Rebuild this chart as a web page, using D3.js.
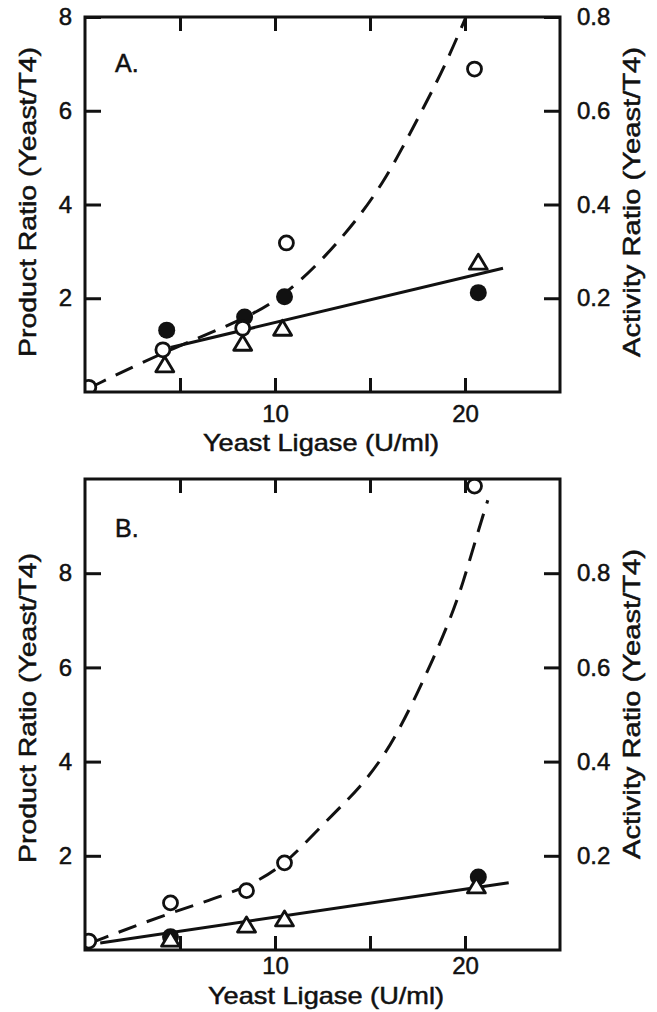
<!doctype html>
<html>
<head>
<meta charset="utf-8">
<script src="https://cdn.jsdelivr.net/npm/d3@7"></script>
<style>
body { margin: 0; background: #fff; }
text { font-family: "Liberation Sans", Arial, sans-serif; fill: #111; stroke: #111; stroke-width: 0.5px; }
</style>
</head>
<body>
<script>
// panel A values
var aOpen     = [[0.2, 0.1], [4.1, 0.9], [8.3, 1.36], [10.6, 3.18], [20.5, 6.89]];
var aFilled   = [[4.3, 1.32], [8.4, 1.6], [10.5, 2.03], [20.7, 2.12]];
var aTriangle = [[4.2, 0.58], [8.3, 1.04], [10.4, 1.36], [20.7, 2.77]];
var aSolid    = [[4.5, 0.95], [22.0, 2.64]];
var aDashed   = [[0.2, 0.08], [4.1, 0.85], [8.4, 1.55], [10.5, 2.05], [12.7, 2.9], [14.5, 3.77],
                 [15.7, 4.48], [16.7, 5.2], [17.6, 5.9], [18.5, 6.6], [19.2, 7.2], [20.05, 8.0]];

// panel B values
var bOpen     = [[0.2, 0.19], [4.5, 1.0], [8.5, 1.26], [10.5, 1.85], [20.5, 9.85]];
var bFilled   = [[4.5, 0.28], [20.7, 1.55]];
var bTriangle = [[4.5, 0.23], [8.5, 0.53], [10.5, 0.66], [20.6, 1.36]];
var bSolid    = [[0.8, 0.15], [22.3, 1.43]];
var bDashed   = [[0.3, 0.15], [4.5, 0.8], [8.5, 1.3], [10.4, 1.8], [11.3, 2.15], [13.1, 2.9],
                 [14.5, 3.46], [15.7, 4.1], [16.6, 4.73], [17.5, 5.46], [18.3, 6.16], [19.2, 7.0],
                 [19.9, 7.79], [20.6, 8.77], [21.2, 9.55]];

var xTicks = [5, 10, 15, 20];
var xLabels = [10, 20];

var svg = d3.select("body").append("svg")
  .attr("width", 657)
  .attr("height", 1012);

var x = d3.scaleLinear().domain([0, 25]).range([85, 560]);

function panel(o) {
  var y = d3.scaleLinear().domain([0, o.ymax]).range([o.bottom, o.top]);
  var y2 = d3.scaleLinear().domain([0, o.ymax / 10]).range([o.bottom, o.top]);
  var g = svg.append("g");
  var clipId = "clip" + o.name;
  g.append("clipPath").attr("id", clipId)
    .append("rect")
    .attr("x", x(0)).attr("y", o.top)
    .attr("width", x(25) - x(0)).attr("height", o.bottom - o.top);

  function axis(a, transform) {
    var s = g.append("g").attr("transform", transform).call(a);
    s.select(".domain").remove();
    s.selectAll("line").attr("stroke", "#111").attr("stroke-width", 3);
    s.selectAll("text").style("font-size", "24px").attr("fill", "#111");
    return s;
  }
  axis(d3.axisLeft(y).tickValues(o.yTicks).tickSize(-16).tickPadding(13).tickFormat(d3.format("d")),
       "translate(" + x(0) + ",0)");
  axis(d3.axisRight(y2).tickValues(o.yTicks.map(d => d / 10)).tickSize(-16).tickPadding(17).tickFormat(d3.format(".1f")),
       "translate(" + x(25) + ",0)");
  axis(d3.axisBottom(x).tickValues(xTicks).tickSize(-14).tickPadding(o.xPad)
         .tickFormat(d => xLabels.indexOf(d) >= 0 ? d : ""),
       "translate(0," + o.bottom + ")");
  axis(d3.axisTop(x).tickValues(xTicks).tickSize(-14).tickFormat(""),
       "translate(0," + o.top + ")");

  var plot = g.append("g").attr("clip-path", "url(#" + clipId + ")");
  plot.append("path")
    .attr("d", d3.line().x(d => x(d[0])).y(d => y(d[1])).curve(d3.curveBasis)(o.dashed))
    .attr("fill", "none").attr("stroke", "#111").attr("stroke-width", 3)
    .attr("stroke-dasharray", "19,11");
  plot.append("path")
    .attr("d", d3.line().x(d => x(d[0])).y(d => y(d[1]))(o.solid))
    .attr("fill", "none").attr("stroke", "#111").attr("stroke-width", 3);

  plot.selectAll(".filled").data(o.filled).join("circle")
    .attr("cx", d => x(d[0])).attr("cy", d => y(d[1])).attr("r", 8.5)
    .attr("fill", "#111");
  plot.selectAll(".tri").data(o.triangle).join("path")
    .attr("transform", d => "translate(" + x(d[0]) + "," + y(d[1]) + ")")
    .attr("d", "M0,-8 L9,7 L-9,7 Z")
    .attr("fill", "#fff").attr("stroke", "#111").attr("stroke-width", 2.8)
    .attr("stroke-linejoin", "round");
  plot.selectAll(".open").data(o.open).join("circle")
    .attr("cx", d => x(d[0])).attr("cy", d => y(d[1])).attr("r", 7)
    .attr("fill", "#fff").attr("stroke", "#111").attr("stroke-width", 2.8);

  g.append("rect")
    .attr("x", x(0)).attr("y", o.top)
    .attr("width", x(25) - x(0)).attr("height", o.bottom - o.top)
    .attr("fill", "none").attr("stroke", "#111").attr("stroke-width", 3);

  g.append("text").attr("x", 115).attr("y", o.top + o.labelDy)
    .style("font-size", "25px").text(o.name + ".");

  g.append("text")
    .attr("transform", "translate(36," + o.leftMid + ") rotate(-90)")
    .attr("text-anchor", "middle").style("font-size", "24px")
    .attr("textLength", 310).attr("lengthAdjust", "spacingAndGlyphs")
    .text("Product Ratio (Yeast/T4)");
  g.append("text")
    .attr("transform", "translate(640," + o.rightMid + ") rotate(-90)")
    .attr("text-anchor", "middle").style("font-size", "24px")
    .attr("textLength", 310).attr("lengthAdjust", "spacingAndGlyphs")
    .text("Activity Ratio (Yeast/T4)");
  g.append("text")
    .attr("x", o.xTitleMid).attr("y", o.bottom + o.xTitleDy)
    .attr("text-anchor", "middle").style("font-size", "24px")
    .attr("textLength", 236).attr("lengthAdjust", "spacingAndGlyphs")
    .text("Yeast Ligase (U/ml)");
}

panel({name: "A", top: 17, bottom: 392, ymax: 8, yTicks: [2, 4, 6, 8], labelDy: 55,
       leftMid: 202, rightMid: 202, xTitleMid: 321, xTitleDy: 59, xPad: 13,
       open: aOpen, filled: aFilled, triangle: aTriangle, solid: aSolid, dashed: aDashed});
panel({name: "B", top: 479, bottom: 950, ymax: 10, yTicks: [2, 4, 6, 8], labelDy: 58,
       leftMid: 708, rightMid: 704, xTitleMid: 326, xTitleDy: 54, xPad: 7,
       open: bOpen, filled: bFilled, triangle: bTriangle, solid: bSolid, dashed: bDashed});
</script>
</body>
</html>
